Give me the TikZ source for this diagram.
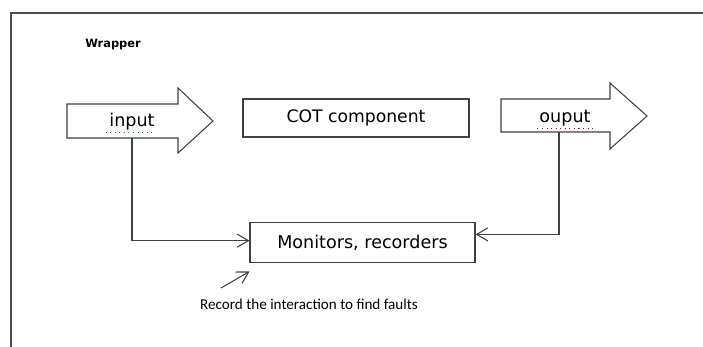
\documentclass[tikz,border=0pt]{standalone}
\usepackage{fontspec}
\usetikzlibrary{arrows.meta,calc}
\newfontfamily\boxfont{DejaVu Sans}
\newfontfamily\notefont{Carlito}

\tikzset{
  line/.style={draw=black!75, line width=0.6pt},
  barb/.style={-{Straight Barb[length=6.5pt,width=7.5pt]}},
  blockbox/.style={line, rectangle, inner sep=0pt},
  spellmark/.style={dotted, line width=0.6pt, draw=#1}
}

\begin{document}
\begin{tikzpicture}[x=0.02cm,y=-0.02cm]
  \useasboundingbox (0,0) rectangle (703,347);

  % outer wrapper frame, open to the right and bottom
  \draw[draw=black!70, line width=0.9pt] (703,13) -- (11,13) -- (11,347);
  \node[font=\boxfont\bfseries\fontsize{6.5}{8}\selectfont] (wrap) at (113,45) {Wrapper};

  % input block arrow
  \draw[line, fill=white] (67,104) -- (178,104) -- (178,88) -- (213,121)
        -- (178,153) -- (178,138) -- (67,138) -- cycle;
  \node[font=\boxfont\fontsize{10}{12}\selectfont, inner sep=1pt] (inlbl) at (132,122) {input};
  \draw[spellmark=green!60!black] ([xshift=-1pt]inlbl.south west) -- ([xshift=-1pt]inlbl.south east);

  % component box
  \node[blockbox, minimum width=4.52cm, minimum height=0.76cm,
        font=\boxfont\fontsize{9.8}{12}\selectfont] (cot) at (356,118) {COT component};

  % output block arrow
  \draw[line, fill=white] (501,99) -- (610,99) -- (610,83) -- (647,116)
        -- (610,149) -- (610,132) -- (501,132) -- cycle;
  \node[font=\boxfont\fontsize{10}{12}\selectfont, inner sep=1pt] (outlbl) at (565,118) {ouput};
  \draw[spellmark=red!75!black] (outlbl.south west) -- (outlbl.south east);

  % monitor box
  \node[blockbox, minimum width=4.5cm, minimum height=0.81cm,
        font=\boxfont\fontsize{10}{12}\selectfont] (mon) at (362.5,242.7) {Monitors, recorders};

  \coordinate (inbot) at (132,138);
  \coordinate (outbot) at (559,132);
  \coordinate (hint) at (221,288);

  \draw[line, barb] (inbot) |- ($(mon.north west)!0.45!(mon.south west)$);
  \draw[line, barb] (outbot) |- ($(mon.north east)!0.3!(mon.south east)$);
  \draw[line, barb] (hint) -- ([shift={(0,8)}]mon.south west);

  \node[font=\notefont\fontsize{8.6}{10}\selectfont] (note) at (309,304)
        {Record the interaction to find faults};
\end{tikzpicture}
\end{document}
